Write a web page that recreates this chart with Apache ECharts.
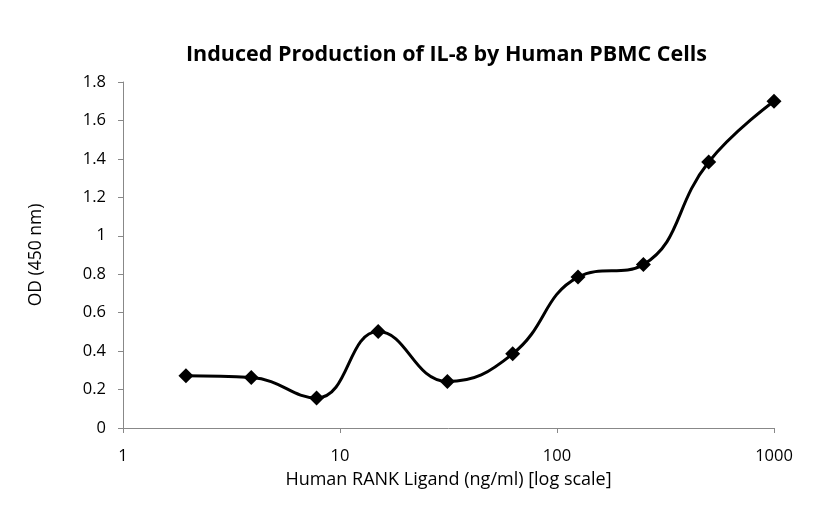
<!DOCTYPE html>
<html>
<head>
<meta charset="utf-8">
<script src="https://cdn.jsdelivr.net/npm/echarts@6/dist/echarts.min.js"></script>
<style>html,body{margin:0;padding:0;background:#fff;}#c{width:838px;height:511px;}</style>
</head>
<body>
<div id="c"></div>
<script>
const concentrations = [1.95, 3.9, 7.8, 15, 31.25, 62.5, 125, 250, 500, 1000];
const odValues = [0.272, 0.263, 0.156, 0.502, 0.242, 0.386, 0.785, 0.850, 1.384, 1.700];
const titleText = 'Induced Production of IL-8 by Human PBMC Cells';
const xAxisName = 'Human RANK Ligand (ng/ml) [log scale]';
const yAxisName = 'OD (450 nm)';

const chart = echarts.init(document.getElementById('c'));
chart.setOption({
  animation: false,
  backgroundColor: '#fff',
  title: {
    text: titleText,
    left: 181,
    top: 39,
    textStyle: { fontFamily: 'Open Sans', fontWeight: 'bold', fontSize: 21.5, color: '#000' }
  },
  grid: { left: 123, right: 64, top: 82, bottom: 83 },
  xAxis: {
    type: 'log',
    logBase: 10,
    min: 1,
    max: 1000,
    name: xAxisName,
    nameLocation: 'middle',
    nameGap: 43,
    nameTextStyle: { fontFamily: 'Open Sans', fontSize: 18, color: '#000' },
    axisLine: { lineStyle: { color: '#888', width: 1 } },
    axisTick: { show: true, length: 5, lineStyle: { color: '#888' } },
    minorTick: { show: false },
    splitLine: { show: false },
    axisLabel: {
      fontFamily: 'Open Sans', fontSize: 16.5, color: '#000', margin: 20,
      formatter: v => String(Math.round(v))
    }
  },
  yAxis: {
    type: 'value',
    min: 0,
    max: 1.8,
    interval: 0.2,
    name: yAxisName,
    nameLocation: 'middle',
    nameGap: 78,
    nameTextStyle: { fontFamily: 'Open Sans', fontSize: 17.5, color: '#000' },
    axisLine: { show: true, lineStyle: { color: '#888', width: 1 } },
    axisTick: { show: true, length: 5, lineStyle: { color: '#888' } },
    splitLine: { show: false },
    axisLabel: {
      fontFamily: 'Open Sans', fontSize: 16.5, color: '#000', margin: 17,
      formatter: v => String(Math.round(v * 10) / 10)
    }
  },
  series: [{
    type: 'line',
    data: concentrations.map((c, i) => [c, odValues[i]]),
    smooth: 0.45,
    symbol: 'diamond',
    symbolSize: 15,
    lineStyle: { color: '#000', width: 3 },
    itemStyle: { color: '#000' }
  }]
});
</script>
</body>
</html>
